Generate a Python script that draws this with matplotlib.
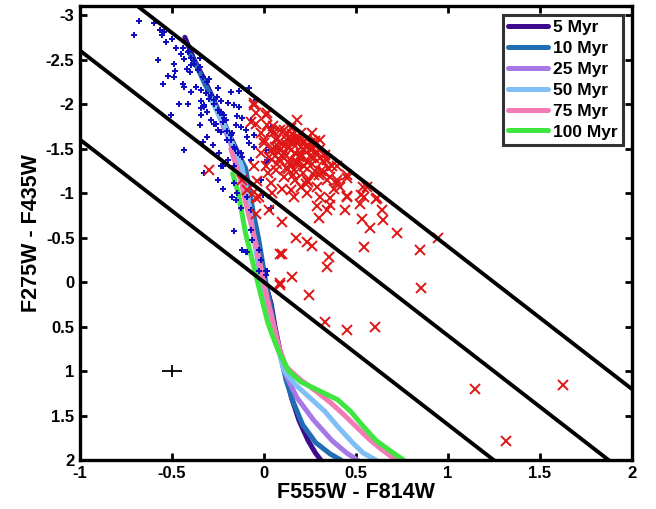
import numpy as np
import matplotlib
matplotlib.use("Agg")
from matplotlib import pyplot as plt

plt.rcParams["font.family"] = ["Liberation Sans", "DejaVu Sans"]
plt.rcParams["font.weight"] = "bold"
plt.rcParams["axes.unicode_minus"] = False

# isochrones (F555W-F814W, F275W-F435W)
ages = ["5 Myr", "10 Myr", "25 Myr", "50 Myr", "75 Myr", "100 Myr"]
iso_colors = ["#3d0a8c", "#1f6db3", "#a678e6", "#80bff5", "#f27ab5", "#40e640"]

iso_x = [
    [-0.43, -0.38, -0.33, -0.28, -0.23, -0.18, -0.14, -0.11, -0.09, -0.07, -0.04, -0.02, 0.0, 0.04, 0.06, 0.09, 0.12, 0.15, 0.19, 0.24, 0.28, 0.31],
    [-0.40, -0.36, -0.32, -0.27, -0.22, -0.18, -0.13, -0.10, -0.08, -0.06, -0.03, -0.01, 0.01, 0.04, 0.06, 0.09, 0.12, 0.16, 0.21, 0.28, 0.36, 0.42],
    [-0.26, -0.22, -0.18, -0.14, -0.11, -0.09, -0.07, -0.05, -0.03, 0.0, 0.03, 0.05, 0.09, 0.12, 0.18, 0.27, 0.37, 0.45, 0.51],
    [-0.30, -0.25, -0.20, -0.16, -0.12, -0.10, -0.08, -0.06, -0.03, 0.0, 0.03, 0.06, 0.09, 0.11, 0.17, 0.25, 0.33, 0.40, 0.48, 0.54, 0.61],
    [-0.18, -0.15, -0.12, -0.10, -0.07, -0.04, -0.01, 0.02, 0.05, 0.08, 0.12, 0.20, 0.28, 0.36, 0.43, 0.50, 0.57, 0.64, 0.72],
    [-0.17, -0.14, -0.12, -0.10, -0.07, -0.04, -0.01, 0.02, 0.05, 0.08, 0.11, 0.135, 0.20, 0.30, 0.40, 0.47, 0.54, 0.61, 0.69, 0.76],
]
iso_y = [
    [-2.75, -2.50, -2.30, -2.08, -1.85, -1.62, -1.45, -1.30, -1.10, -0.85, -0.55, -0.30, -0.05, 0.25, 0.50, 0.80, 1.05, 1.30, 1.55, 1.78, 1.92, 2.0],
    [-2.55, -2.40, -2.22, -2.02, -1.80, -1.60, -1.40, -1.28, -1.05, -0.80, -0.50, -0.25, 0.00, 0.30, 0.55, 0.82, 1.10, 1.35, 1.60, 1.80, 1.93, 2.0],
    [-1.95, -1.75, -1.55, -1.38, -1.20, -1.00, -0.70, -0.45, -0.20, 0.05, 0.35, 0.55, 0.80, 1.05, 1.30, 1.55, 1.78, 1.92, 2.0],
    [-2.10, -1.90, -1.70, -1.50, -1.30, -1.10, -0.85, -0.55, -0.25, 0.05, 0.35, 0.60, 0.85, 1.00, 1.15, 1.30, 1.45, 1.62, 1.80, 1.92, 2.0],
    [-1.50, -1.30, -1.10, -0.90, -0.65, -0.40, -0.10, 0.20, 0.45, 0.72, 0.95, 1.10, 1.22, 1.35, 1.48, 1.62, 1.76, 1.88, 2.0],
    [-1.22, -1.00, -0.78, -0.55, -0.30, -0.05, 0.20, 0.45, 0.62, 0.78, 0.90, 1.00, 1.12, 1.22, 1.32, 1.45, 1.62, 1.78, 1.90, 2.0],
]

# blue points
blue_x = [-0.677, -0.704, -0.596, -0.563, -0.541, -0.556, -0.501, -0.532, -0.478, -0.442,
          -0.451, -0.415, -0.433, -0.577, -0.487, -0.397, -0.379, -0.346, -0.483, -0.418,
          -0.400, -0.523, -0.487, -0.442, -0.433, -0.550, -0.397, -0.370, -0.343, -0.316,
          -0.252, -0.298, -0.343, -0.325, -0.270, -0.234, -0.198, -0.460, -0.415, -0.343,
          -0.307, -0.234, -0.180, -0.135, -0.162, -0.135, -0.505, -0.343, -0.217, -0.347,
          -0.153, -0.289, -0.262, -0.433, -0.325, -0.279, -0.225, -0.252, -0.180, -0.207,
          -0.162, -0.126, -0.090, -0.072, -0.144, -0.126, -0.243, -0.198, -0.162, 0.018,
          -0.054, -0.252, -0.234, -0.252, -0.225, -0.162, -0.171, -0.153, -0.144, -0.126,
          -0.090, -0.072, -0.018, 0.036, -0.162, -0.072, -0.099, -0.027, -0.018, -0.027,
          0.009, 0.009, -0.063, -0.117, -0.094, 0.018, -0.325, -0.270, -0.307, -0.234,
          -0.200, -0.330, 0.010, 0.036, -0.006, -0.045, -0.080, -0.117, -0.099, -0.081,
          -0.054, 0.036, -0.072, 0.009, 0.063, -0.018, -0.380, -0.360, -0.330, -0.310,
          -0.290, -0.270, -0.240, -0.220, -0.200, -0.180, -0.160, -0.140, -0.120, -0.410,
          -0.395, -0.350, -0.300, -0.255, -0.215, -0.175]
blue_y = [-2.93, -2.78, -2.91, -2.83, -2.81, -2.77, -2.73, -2.70, -2.63, -2.63,
          -2.56, -2.58, -2.51, -2.50, -2.45, -2.44, -2.48, -2.52, -2.37, -2.39,
          -2.36, -2.31, -2.30, -2.23, -2.19, -2.22, -2.14, -2.19, -2.16, -2.12,
          -2.18, -2.06, -2.03, -1.99, -2.04, -2.03, -2.01, -2.00, -2.00, -1.95,
          -1.91, -1.91, -2.14, -2.15, -1.99, -1.97, -1.88, -1.88, -1.84, -1.76,
          -1.76, -1.82, -1.78, -1.48, -1.22, -1.54, -1.30, -1.71, -1.65, -1.82,
          -1.52, -1.45, -1.63, -1.82, -1.86, -1.74, -1.45, -1.37, -1.30, -1.37,
          -1.52, -1.93, -1.30, -1.15, -1.05, -1.11, -0.96, -0.92, -1.00, -0.83,
          -0.96, -0.81, -1.15, -0.83, -0.57, -0.58, -0.34, -0.36, -0.25, -0.13,
          -0.13, -0.08, -0.47, -0.36, -0.34, -0.12, -1.97, -1.78, -1.63, -1.69,
          -1.60, -1.57, -1.48, -1.71, -0.98, -2.04, -2.18, -1.84, -1.71, -1.56,
          -1.65, -1.74, -1.37, -1.35, -1.52, -1.15, -2.45, -2.38, -2.30, -2.25,
          -2.10, -2.00, -1.90, -1.80, -1.70, -1.60, -1.50, -1.45, -1.40, -2.60,
          -2.52, -2.42, -2.28, -2.08, -1.88, -1.68]

# red points
red_x = [-0.054, -0.045, -0.072, 0.009, 0.018, -0.018, 0.054, 0.090, 0.145, 0.172,
         0.127, 0.199, 0.063, 0.000, 0.036, -0.018, 0.090, 0.145, 0.108, 0.190,
         0.235, 0.253, 0.298, 0.271, 0.217, -0.054, 0.009, 0.063, 0.163, 0.108,
         0.325, 0.361, 0.397, 0.452, 0.415, 0.235, 0.289, 0.199, 0.036, 0.100,
         0.145, -0.036, 0.045, 0.163, 0.235, 0.307, 0.361, 0.452, 0.542, 0.560,
         -0.090, -0.027, 0.343, 0.307, 0.181, 0.199, -0.054, 0.018, -0.045, 0.108,
         0.154, 0.181, 0.262, 0.307, 0.397, 0.614, 0.361, 0.072, 0.000, 0.343,
         0.397, 0.524, -0.298, -0.117, -0.045, -0.045, 0.027, 0.100, 0.172, 0.235,
         0.262, 0.090, 0.154, 0.090, 0.244, 0.352, 0.343, 0.298, 0.343, 0.289,
         -0.054, 0.090, 0.100, 0.334, 0.449, 0.606, 1.146, 1.319, 0.454, 0.540,
         0.454, 0.530, 0.610, 0.443, 0.643, 0.535, 0.649, 0.578, 0.724, 0.546,
         0.849, 0.946, 0.854, 1.628, 0.120, 0.060, 0.220, 0.280, 0.150, 0.030,
         0.250, 0.180, 0.330, 0.120, 0.210, 0.070, 0.280, 0.160, 0.240, 0.020,
         0.130, 0.370, 0.300, 0.050, 0.200, 0.100, 0.260, 0.170, 0.380, 0.230,
         0.110, 0.140, 0.170, 0.200, 0.230, 0.260, 0.080, 0.040, 0.190, 0.220,
         0.150, 0.120, 0.060, 0.290, 0.320, 0.180, 0.250, 0.210, 0.130, 0.350,
         0.080, 0.270, 0.160, 0.240, 0.310, 0.050, 0.100, 0.200, 0.140, 0.280]
red_y = [-1.99, -1.90, -1.80, -1.88, -1.76, -1.67, -1.69, -1.71, -1.73, -1.63,
         -1.60, -1.60, -1.60, -1.56, -1.48, -1.45, -1.48, -1.48, -1.39, -1.41,
         -1.35, -1.50, -1.48, -1.39, -1.30, -1.30, -1.30, -1.26, -1.26, -1.18,
         -1.24, -1.18, -1.15, -1.20, -1.07, -1.15, -1.07, -1.07, -1.11, -1.05,
         -1.03, -1.13, -1.00, -0.96, -1.00, -0.96, -0.94, -0.96, -0.96, -1.07,
         -1.03, -0.96, -1.37, -1.60, -1.82, -1.52, -2.01, -1.90, -1.78, -1.71,
         -1.61, -1.58, -1.50, -1.39, -1.30, -0.94, -0.87, -1.33, -1.60, -1.15,
         -1.11, -0.88, -1.26, -1.15, -0.77, -0.94, -0.81, -0.68, -0.49, -0.45,
         -0.40, -0.32, -0.06, 0.01, 0.15, -0.28, -0.17, -0.72, -0.81, -0.85,
         -1.01, 0.03, -0.31, 0.45, 0.54, 0.51, 1.20, 1.78, -1.17, -1.07,
         -0.97, -0.98, -0.93, -0.81, -0.81, -0.71, -0.70, -0.61, -0.55, -0.39,
         -0.36, -0.49, 0.07, 1.16, -1.55, -1.52, -1.58, -1.55, -1.66, -1.40,
         -1.42, -1.35, -1.43, -1.28, -1.22, -1.62, -1.25, -1.55, -1.62, -1.22,
         -1.52, -1.30, -1.20, -1.75, -1.68, -1.42, -1.68, -1.15, -1.05, -1.10,
         -1.45, -1.37, -1.45, -1.44, -1.52, -1.33, -1.52, -1.70, -1.62, -1.30,
         -1.57, -1.65, -1.42, -1.46, -1.36, -1.33, -1.56, -1.49, -1.27, -1.28,
         -1.38, -1.20, -1.20, -1.12, -1.25, -1.50, -1.55, -1.40, -1.33, -1.58]

# reddening-parallel lines: y = slope * x + offset
line_slope = 1.6
line_offsets = [0.0, -1.0, -2.0]

# typical error bar
err_x, err_y = -0.5, 1.0
err_dx, err_dy = 0.055, 0.07

fig = plt.figure(figsize=(6.56, 5.09), dpi=100)
ax = fig.add_axes([0.122, 0.096, 0.841, 0.892])

for xs, ys, c, lab in zip(iso_x, iso_y, iso_colors, ages):
    ax.plot(xs, ys, color=c, linewidth=3.6, label=lab, solid_capstyle="round", zorder=2)

ax.plot(blue_x, blue_y, linestyle="none", marker="P", markersize=4.6,
        color="#1010c0", markeredgewidth=0, zorder=3)
ax.plot(red_x, red_y, linestyle="none", marker="x", markersize=6.5,
        markeredgewidth=1.4, color="#e01515", zorder=4)

xl = np.array([-1.0, 2.0])
for off in line_offsets:
    ax.plot(xl, line_slope * xl + off, color="black", linewidth=2.8, zorder=5)

ax.errorbar([err_x], [err_y], xerr=[err_dx], yerr=[err_dy], fmt="none",
            ecolor="black", elinewidth=1.3, capsize=0, zorder=5)

ax.set_xlim(-1, 2)
ax.set_ylim(2, -3.1)
ax.set_xticks([-1, -0.5, 0, 0.5, 1, 1.5, 2])
ax.set_xticklabels(["-1", "-0.5", "0", "0.5", "1", "1.5", "2"])
ax.set_yticks([-3, -2.5, -2, -1.5, -1, -0.5, 0, 0.5, 1, 1.5, 2])
ax.set_yticklabels(["-3", "-2.5", "-2", "-1.5", "-1", "-0.5", "0", "0.5", "1", "1.5", "2"])
ax.tick_params(direction="in", top=True, right=True, length=5, width=2,
               labelsize=12, pad=4)
for lab in ax.get_xticklabels() + ax.get_yticklabels():
    lab.set_fontweight("bold")
for s in ax.spines.values():
    s.set_linewidth(2.4)

ax.set_xlabel("F555W - F814W", fontsize=15.5, fontweight="bold", labelpad=1)
ax.set_ylabel("F275W - F435W", fontsize=15.5, fontweight="bold", labelpad=3)

leg = ax.legend(loc="upper right", frameon=True, fancybox=False,
                handlelength=2.3, handletextpad=0.3, labelspacing=0.33,
                borderpad=0.3, borderaxespad=0.5, prop={"weight": "bold", "size": 12.5})
leg.get_frame().set_edgecolor("black")
leg.get_frame().set_linewidth(2.2)
for h in leg.get_lines():
    h.set_linewidth(3.6)

fig.savefig("out.png", dpi=100)
